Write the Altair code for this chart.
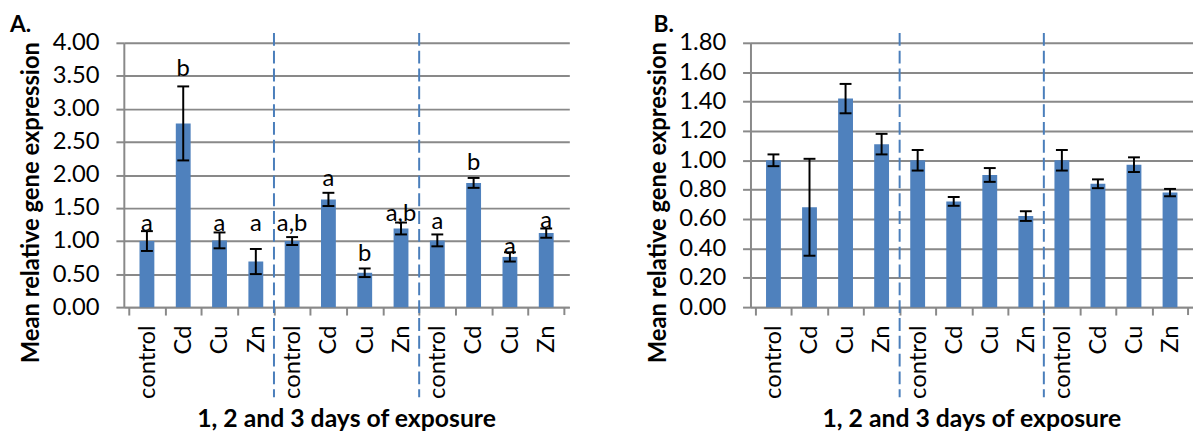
import json
import altair as alt
import pandas as pd

# ---------------- data ----------------
treatments = ["control", "Cd", "Cu", "Zn"]
days_per_panel = 3
categories = treatments * days_per_panel

A_mean = [1.00, 2.78, 1.01, 0.69, 1.00, 1.63, 0.52, 1.19, 1.01, 1.88, 0.76, 1.12]
A_err = [0.15, 0.56, 0.12, 0.19, 0.06, 0.10, 0.065, 0.09, 0.09, 0.075, 0.07, 0.07]
A_letters = ["a", "b", "a", "a", "a,b", "a", "b", "a,b", "a", "b", "a", "a"]
A_letter_y = [1.15, 3.50, 1.15, 1.15, 1.15, 1.83, 0.70, 1.30, 1.18, 2.07, 0.80, 1.20]
A_ticks = [0.0, 0.5, 1.0, 1.5, 2.0, 2.5, 3.0, 3.5, 4.0]

B_mean = [1.00, 0.68, 1.42, 1.11, 1.00, 0.72, 0.90, 0.62, 1.00, 0.84, 0.97, 0.78]
B_err = [0.04, 0.33, 0.10, 0.07, 0.07, 0.03, 0.047, 0.033, 0.07, 0.03, 0.05, 0.025]
B_ticks = [0.0, 0.2, 0.4, 0.6, 0.8, 1.0, 1.2, 1.4, 1.6, 1.8]

y_title = "Mean relative gene expression"
x_title = "1, 2 and 3 days of exposure"

FONT = "Lato"
GRID = "#898989"
BAR = "#4F81BD"
DASH = "#4a7ebb"
H = 267


def panel(tag, means, errs, ticks, width, tag_x, letters=None, letter_y=None):
    n = len(categories)
    df = pd.DataFrame({
        "pos": [i + 0.5 for i in range(n)],
        "cat": categories,
        "mean": means,
        "lo": [m - e for m, e in zip(means, errs)],
        "hi": [m + e for m, e in zip(means, errs)],
    })
    if letters:
        df["letter"] = letters
        df["ly"] = letter_y
    bounds = pd.DataFrame({"b": [len(treatments) * k for k in range(1, days_per_panel)]})
    end = pd.DataFrame({"e": [n]})
    xt = pd.DataFrame({"xc": [n / 2], "t": [x_title]})

    xaxis = alt.Axis(
        values=list(range(n)),
        labelExpr=json.dumps(categories) + "[datum.value]",
        labelAngle=270, labelOffset=width / n / 2, labelFontSize=24,
        labelPadding=10, labelFlush=False, labelOverlap=False, labelColor="black",
        labelFont=FONT, grid=False, domain=True, domainColor=GRID, domainWidth=2,
        ticks=True, tickSize=8, tickColor=GRID, tickWidth=2, title=None,
    )
    yaxis = alt.Axis(
        values=ticks, format=".2f", grid=True, gridColor=GRID, gridWidth=2,
        domain=True, domainColor=GRID, domainWidth=2, ticks=True, tickSize=8,
        tickColor=GRID, tickWidth=2, labelFontSize=24, labelFont=FONT,
        labelColor="black", labelPadding=17,
        title=y_title, titleFont=FONT, titleFontSize=24, titleFontWeight="bold",
        titleColor="black", titleX=-93, titleY=161, titleAngle=270,
        titleBaseline="middle", titleAlign="center",
    )
    xs = alt.Scale(domain=[0, n], nice=False, zero=False)
    ys = alt.Scale(domain=[ticks[0], ticks[-1]], nice=False)

    def X(f):
        return alt.X(f + ":Q", scale=xs, axis=xaxis)

    def Y(f):
        return alt.Y(f + ":Q", scale=ys, axis=yaxis)

    base = alt.Chart(df)
    bars = base.mark_bar(size=15, color=BAR).encode(x=X("pos"), y=Y("mean"))
    err = base.mark_rule(color="black", strokeWidth=2).encode(x=X("pos"), y=Y("lo"), y2="hi")
    cap_hi = base.mark_rule(color="black", strokeWidth=2, xOffset=-6, x2Offset=6).encode(
        x=X("pos"), x2="pos", y=Y("hi"))
    cap_lo = base.mark_rule(color="black", strokeWidth=2, xOffset=-6, x2Offset=6).encode(
        x=X("pos"), x2="pos", y=Y("lo"))
    end_tick = alt.Chart(end).mark_rule(color=GRID, strokeWidth=2).encode(
        x=X("e"), y=alt.value(H), y2=alt.value(H + 8))
    dashes = alt.Chart(bounds).mark_rule(color=DASH, strokeWidth=2, strokeDash=[13, 5]).encode(
        x=X("b"), y=alt.value(-10), y2=alt.value(H + 91))
    xtitle = alt.Chart(xt).mark_text(
        font=FONT, fontSize=25, fontWeight="bold", align="center", baseline="bottom",
        color="black").encode(x=X("xc"), y=alt.value(H + 126), text="t:N")
    label = alt.Chart(pd.DataFrame({"t": [tag]})).mark_text(
        font=FONT, fontSize=23, fontWeight="bold", align="left", baseline="alphabetic",
        color="black").encode(x=alt.value(tag_x), y=alt.value(-11), text="t:N")
    layers = [bars, err, cap_hi, cap_lo, end_tick, dashes, xtitle]
    if letters:
        layers.append(base.mark_text(font=FONT, fontSize=24, baseline="alphabetic", color="black").encode(
            x=X("pos"), y=Y("ly"), text="letter:N"))
    layers.append(label)
    return alt.layer(*layers).properties(width=width, height=H)


A = panel("A.", A_mean, A_err, A_ticks, 450, -115, A_letters, A_letter_y)
B = panel("B.", B_mean, B_err, B_ticks, 447, -98)

chart = alt.hconcat(A, B, spacing=78).properties(
    padding={"left": 2, "top": 4, "right": 0, "bottom": 0}
).configure_view(stroke=None)

chart.save("out.html", embed_options={"renderer": "svg", "actions": False})
